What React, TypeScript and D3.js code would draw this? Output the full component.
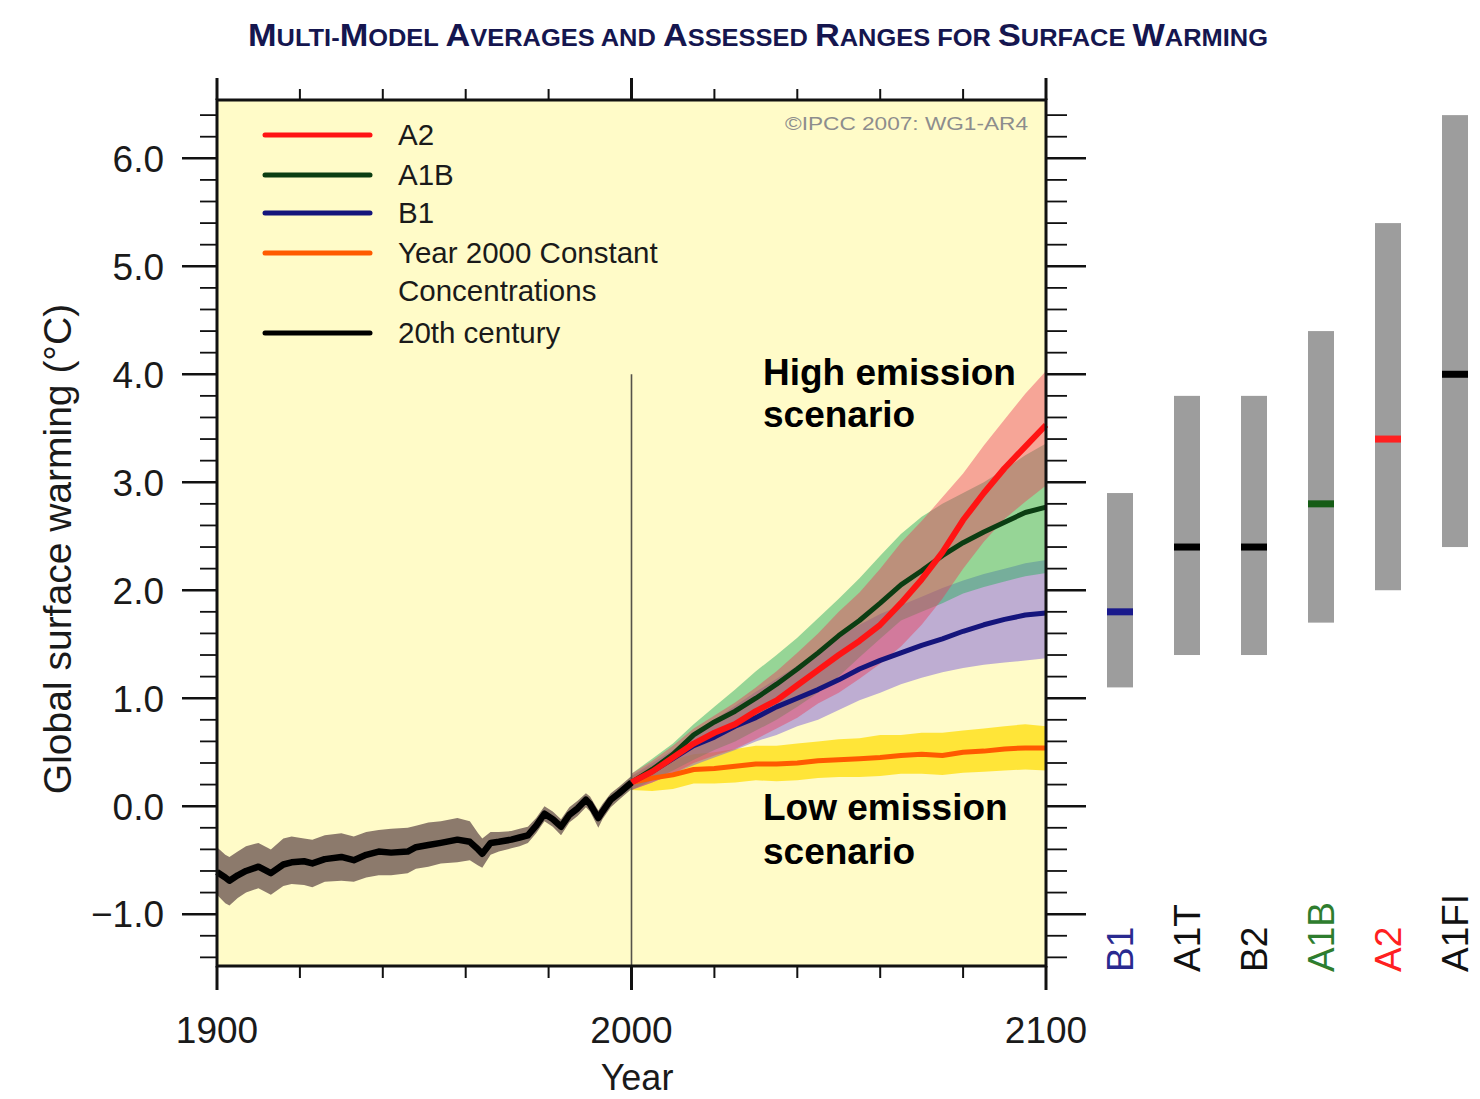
import React from 'react';
import * as d3 from 'd3';

// ---------- data ----------
const TITLE = 'Multi-Model Averages and Assessed Ranges for Surface Warming';
const Y_LABEL = 'Global surface warming (°C)';
const X_LABEL = 'Year';
const COPYRIGHT = '©IPCC 2007: WG1-AR4';
const yTicksMajor = [-1, 0, 1, 2, 3, 4, 5, 6];
const xTicksMajor = [1900, 2000, 2100];
const xTicksMinor = [1920, 1940, 1960, 1980, 2020, 2040, 2060, 2080];

// [year, mean, low, high]
const century20 = [
  [1900, -0.61, -0.82, -0.38], [1902, -0.66, -0.9, -0.45], [1903, -0.69, -0.92, -0.47],
  [1905, -0.64, -0.85, -0.42], [1907, -0.6, -0.8, -0.37], [1910, -0.56, -0.76, -0.34],
  [1913, -0.62, -0.82, -0.4], [1916, -0.54, -0.74, -0.3], [1918, -0.52, -0.72, -0.28],
  [1921, -0.51, -0.73, -0.3], [1923, -0.53, -0.75, -0.31], [1926, -0.49, -0.7, -0.27],
  [1930, -0.47, -0.69, -0.25], [1933, -0.5, -0.7, -0.28], [1936, -0.45, -0.66, -0.24],
  [1939, -0.42, -0.64, -0.22], [1942, -0.43, -0.64, -0.21], [1946, -0.42, -0.62, -0.2],
  [1948, -0.38, -0.58, -0.18], [1951, -0.36, -0.56, -0.15], [1954, -0.34, -0.53, -0.14],
  [1958, -0.31, -0.52, -0.11], [1961, -0.33, -0.5, -0.14], [1963, -0.4, -0.55, -0.25],
  [1964, -0.44, -0.57, -0.3], [1966, -0.34, -0.45, -0.24], [1968, -0.33, -0.42, -0.24],
  [1971, -0.31, -0.39, -0.23], [1973, -0.29, -0.37, -0.21], [1975, -0.27, -0.34, -0.19],
  [1977, -0.18, -0.25, -0.11], [1979, -0.07, -0.14, 0.0], [1981, -0.12, -0.19, -0.05],
  [1983, -0.19, -0.27, -0.12], [1985, -0.08, -0.15, -0.01], [1987, -0.02, -0.09, 0.05],
  [1989, 0.06, -0.01, 0.12], [1990, 0.02, -0.05, 0.09], [1992, -0.11, -0.2, -0.04],
  [1993, -0.05, -0.12, 0.02], [1995, 0.06, -0.01, 0.12], [1997, 0.12, 0.06, 0.18],
  [2000, 0.22, 0.16, 0.28],
];

const scenA2 = [
  [2000, 0.22, 0.15, 0.3], [2005, 0.32, 0.22, 0.42], [2010, 0.45, 0.3, 0.56],
  [2015, 0.58, 0.4, 0.72], [2020, 0.68, 0.47, 0.84], [2025, 0.76, 0.53, 0.96],
  [2030, 0.88, 0.62, 1.1], [2035, 0.98, 0.72, 1.25], [2040, 1.12, 0.82, 1.42],
  [2045, 1.26, 0.95, 1.6], [2050, 1.4, 1.05, 1.8], [2055, 1.53, 1.18, 1.98],
  [2060, 1.68, 1.32, 2.2], [2065, 1.88, 1.48, 2.44], [2070, 2.1, 1.68, 2.64],
  [2075, 2.35, 1.92, 2.86], [2080, 2.65, 2.2, 3.08], [2085, 2.9, 2.45, 3.34],
  [2090, 3.13, 2.66, 3.58], [2095, 3.33, 2.82, 3.82], [2100, 3.53, 2.97, 4.03],
];

const scenA1B = [
  [2000, 0.22, 0.15, 0.3], [2005, 0.34, 0.24, 0.44], [2010, 0.48, 0.33, 0.58],
  [2015, 0.66, 0.43, 0.76], [2020, 0.78, 0.52, 0.92], [2025, 0.88, 0.6, 1.08],
  [2030, 1.0, 0.7, 1.25], [2035, 1.13, 0.8, 1.4], [2040, 1.27, 0.92, 1.56],
  [2045, 1.42, 1.05, 1.74], [2050, 1.58, 1.2, 1.92], [2055, 1.72, 1.38, 2.11],
  [2060, 1.88, 1.55, 2.32], [2065, 2.05, 1.72, 2.52], [2070, 2.18, 1.8, 2.68],
  [2075, 2.32, 1.88, 2.8], [2080, 2.44, 1.97, 2.9], [2085, 2.54, 2.03, 3.0],
  [2090, 2.63, 2.08, 3.12], [2095, 2.72, 2.13, 3.25], [2100, 2.77, 2.16, 3.36],
];

const scenB1 = [
  [2000, 0.22, 0.15, 0.28], [2005, 0.32, 0.22, 0.4], [2010, 0.44, 0.3, 0.52],
  [2015, 0.56, 0.38, 0.66], [2020, 0.64, 0.45, 0.8], [2025, 0.74, 0.52, 0.93],
  [2030, 0.82, 0.6, 1.06], [2035, 0.92, 0.66, 1.18], [2040, 1.0, 0.74, 1.3],
  [2045, 1.08, 0.8, 1.43], [2050, 1.17, 0.89, 1.57], [2055, 1.27, 0.98, 1.68],
  [2060, 1.35, 1.05, 1.78], [2065, 1.42, 1.13, 1.86], [2070, 1.49, 1.19, 1.94],
  [2075, 1.55, 1.24, 2.02], [2080, 1.62, 1.28, 2.09], [2085, 1.68, 1.31, 2.15],
  [2090, 1.73, 1.33, 2.2], [2095, 1.77, 1.35, 2.25], [2100, 1.79, 1.37, 2.28],
];

const scenConst = [
  [2000, 0.22, 0.15, 0.28], [2005, 0.26, 0.14, 0.38], [2010, 0.29, 0.16, 0.43],
  [2015, 0.34, 0.21, 0.48], [2020, 0.35, 0.21, 0.5], [2025, 0.37, 0.22, 0.53],
  [2030, 0.39, 0.24, 0.56], [2035, 0.39, 0.23, 0.56], [2040, 0.4, 0.24, 0.58],
  [2045, 0.42, 0.26, 0.6], [2050, 0.43, 0.27, 0.62], [2055, 0.44, 0.27, 0.63],
  [2060, 0.45, 0.28, 0.66], [2065, 0.47, 0.3, 0.66], [2070, 0.48, 0.3, 0.68],
  [2075, 0.47, 0.29, 0.68], [2080, 0.5, 0.31, 0.7], [2085, 0.51, 0.32, 0.72],
  [2090, 0.53, 0.33, 0.74], [2095, 0.54, 0.34, 0.76], [2100, 0.54, 0.33, 0.74],
];

const legendLabels = ['A2', 'A1B', 'B1', 'Year 2000 Constant|Concentrations', '20th century'];

const scenarioCats = ['B1', 'A1T', 'B2', 'A1B', 'A2', 'A1FI'];
const scenarioBest = [1.8, 2.4, 2.4, 2.8, 3.4, 4.0];
const scenarioLow = [1.1, 1.4, 1.4, 1.7, 2.0, 2.4];
const scenarioHigh = [2.9, 3.8, 3.8, 4.4, 5.4, 6.4];

// ---------- styles ----------
const FONT = '"Liberation Sans", Arial, Helvetica, sans-serif';
const BG = '#fffbc8';
const lineColors = ['#ff1414', '#0b3d12', '#15157c', '#ff5a00', '#000000'];
const bandStyle = {
  A2: { fill: 'rgb(235,60,90)', op: 0.45 },
  A1B: { fill: 'rgb(45,175,100)', op: 0.5 },
  B1: { fill: 'rgb(125,95,220)', op: 0.5 },
  C: { fill: 'rgb(255,220,0)', op: 0.72 },
  C20: { fill: '#8c7a6c', op: 1 },
};
const barMeanColors = ['#1a1a8c', '#000000', '#000000', '#165c16', '#ff2020', '#000000'];
const barLabelColors = ['#2a2a90', '#111111', '#111111', '#2e7d2e', '#ff2020', '#111111'];

export default function App() {
  const W = 1480, H = 1099;
  const L = 217, R = 1046, T = 100, B = 966;
  const x = d3.scaleLinear().domain([1900, 2100]).range([L, R]);
  const y = d3.scaleLinear().domain([-1.48, 6.54]).range([B, T]);
  const bx = d3.scalePoint().domain(scenarioCats).range([1120, 1455]);

  const line = d3.line<number[]>().x(d => x(d[0])).y(d => y(d[1])).curve(d3.curveLinear);
  const area = d3.area<number[]>().x(d => x(d[0])).y0(d => y(d[2])).y1(d => y(d[3])).curve(d3.curveLinear);

  const minorY = d3.range(-14, 65, 2).map(v => v / 10).filter(v => Math.abs(v - Math.round(v)) > 1e-6);

  const titleParts: { ch: string; big: boolean }[] = TITLE.split('').map(ch => ({
    ch: ch.toUpperCase(),
    big: ch !== ch.toLowerCase() && ch === ch.toUpperCase(),
  }));

  const legendY = [135, 175, 213, 253, 333];

  return (
    <svg width={W} height={H} style={{ position: 'absolute', left: 0, top: 0, background: '#fff' }} fontFamily={FONT}>
      <rect x={0} y={0} width={W} height={H} fill="#ffffff" />
      {/* title */}
      <text x={248} y={46} fill="#15164f" fontWeight="bold" textLength={1020} lengthAdjust="spacingAndGlyphs">
        {titleParts.map((p, i) => (
          <tspan key={i} fontSize={p.big ? 31 : 23}>{p.ch}</tspan>
        ))}
      </text>

      {/* plot background */}
      <rect x={L} y={T} width={R - L} height={B - T} fill={BG} />

      {/* 20th century band */}
      <path d={area(century20) || ''} fill={bandStyle.C20.fill} opacity={bandStyle.C20.op} />
      {/* scenario bands */}
      <path d={area(scenConst) || ''} fill={bandStyle.C.fill} fillOpacity={bandStyle.C.op} />
      <path d={area(scenB1) || ''} fill={bandStyle.B1.fill} fillOpacity={bandStyle.B1.op} />
      <path d={area(scenA1B) || ''} fill={bandStyle.A1B.fill} fillOpacity={bandStyle.A1B.op} />
      <path d={area(scenA2) || ''} fill={bandStyle.A2.fill} fillOpacity={bandStyle.A2.op} />

      {/* 2000 divider */}
      <line x1={x(2000)} x2={x(2000)} y1={y(4.0)} y2={B} stroke="#55524a" strokeWidth={1.6} />

      {/* lines */}
      <path d={line(scenConst) || ''} fill="none" stroke={lineColors[3]} strokeWidth={5} strokeLinejoin="round" />
      <path d={line(scenB1) || ''} fill="none" stroke={lineColors[2]} strokeWidth={5} strokeLinejoin="round" />
      <path d={line(scenA1B) || ''} fill="none" stroke={lineColors[1]} strokeWidth={5} strokeLinejoin="round" />
      <path d={line(scenA2) || ''} fill="none" stroke={lineColors[0]} strokeWidth={6} strokeLinejoin="round" />
      <path d={line(century20) || ''} fill="none" stroke={lineColors[4]} strokeWidth={6.5} strokeLinejoin="round" />

      {/* frame */}
      <rect x={L} y={T} width={R - L} height={B - T} fill="none" stroke="#111" strokeWidth={3} />

      {/* top ticks */}
      {xTicksMajor.map(v => (
        <line key={'tM' + v} x1={x(v)} x2={x(v)} y1={T} y2={T - 22} stroke="#111" strokeWidth={3} />
      ))}
      {xTicksMinor.map(v => (
        <line key={'tm' + v} x1={x(v)} x2={x(v)} y1={T} y2={T - 11} stroke="#111" strokeWidth={2} />
      ))}
      {/* bottom ticks */}
      {xTicksMajor.map(v => (
        <line key={'bM' + v} x1={x(v)} x2={x(v)} y1={B} y2={B + 24} stroke="#111" strokeWidth={3} />
      ))}
      {xTicksMinor.map(v => (
        <line key={'bm' + v} x1={x(v)} x2={x(v)} y1={B} y2={B + 12} stroke="#111" strokeWidth={2} />
      ))}
      {/* left and right ticks */}
      {yTicksMajor.map(v => (
        <g key={'yM' + v}>
          <line x1={L - 35} x2={L} y1={y(v)} y2={y(v)} stroke="#111" strokeWidth={2.5} />
          <line x1={R} x2={R + 40} y1={y(v)} y2={y(v)} stroke="#111" strokeWidth={2.5} />
        </g>
      ))}
      {minorY.map(v => (
        <g key={'ym' + v}>
          <line x1={L - 17} x2={L} y1={y(v)} y2={y(v)} stroke="#111" strokeWidth={1.8} />
          <line x1={R} x2={R + 21} y1={y(v)} y2={y(v)} stroke="#111" strokeWidth={1.8} />
        </g>
      ))}

      {/* tick labels */}
      {yTicksMajor.map(v => (
        <text key={'yl' + v} x={164} y={y(v)} dy="0.36em" textAnchor="end" fontSize={37} fill="#1a1a1a">
          {(v < 0 ? '\u2212' : '') + Math.abs(v).toFixed(1)}
        </text>
      ))}
      {xTicksMajor.map(v => (
        <text key={'xl' + v} x={x(v)} y={1043} textAnchor="middle" fontSize={37} fill="#1a1a1a">{v}</text>
      ))}
      <text x={637} y={1090} textAnchor="middle" fontSize={36} fill="#1a1a1a">{X_LABEL}</text>
      <text transform={`translate(71,549) rotate(-90)`} textAnchor="middle" fontSize={39} fill="#1a1a1a">{Y_LABEL}</text>

      {/* copyright */}
      <text x={785} y={130} fontSize={18} fill="#8d8d8d" textLength={243} lengthAdjust="spacingAndGlyphs">{COPYRIGHT}</text>

      {/* legend */}
      {legendLabels.map((lab, i) => {
        const parts = lab.split('|');
        return (
          <g key={'lg' + i}>
            <line x1={265} x2={370} y1={legendY[i]} y2={legendY[i]} stroke={lineColors[i]} strokeWidth={5} strokeLinecap="round" />
            {parts.map((p, j) => (
              <text key={j} x={398} y={legendY[i] + 10 + j * 38} fontSize={29.5} fill="#1a1a1a">{p}</text>
            ))}
          </g>
        );
      })}

      {/* annotations */}
      <text x={763} y={385} fontSize={37} fontWeight="bold" fill="#000">High emission</text>
      <text x={763} y={427} fontSize={37} fontWeight="bold" fill="#000">scenario</text>
      <text x={763} y={820} fontSize={37} fontWeight="bold" fill="#000">Low emission</text>
      <text x={763} y={864} fontSize={37} fontWeight="bold" fill="#000">scenario</text>

      {/* scenario range bars */}
      {scenarioCats.map((c, i) => {
        const cx = bx(c) as number;
        return (
          <g key={'bar' + c}>
            <rect x={cx - 13} y={y(scenarioHigh[i])} width={26} height={y(scenarioLow[i]) - y(scenarioHigh[i])} fill="#9d9d9d" />
            <rect x={cx - 13} y={y(scenarioBest[i]) - 3.5} width={26} height={7} fill={barMeanColors[i]} />
            <text transform={`translate(${cx},972) rotate(-90)`} dy="0.36em" fontSize={37} fill={barLabelColors[i]}>{c}</text>
          </g>
        );
      })}
    </svg>
  );
}
